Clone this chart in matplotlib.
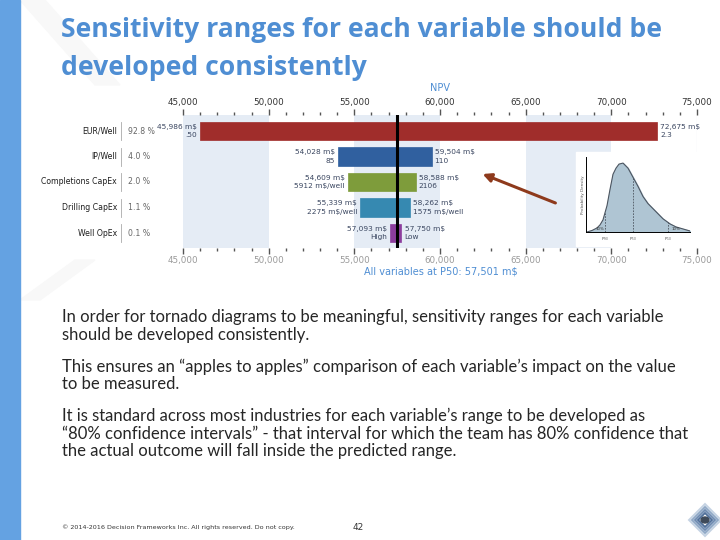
import matplotlib.pyplot as plt
from matplotlib.patches import Rectangle, Polygon

# tornado data (NPV in m$)
variables = ["EUR/Well", "IP/Well", "Completions CapEx", "Drilling CapEx", "Well OpEx"]
shares = ["92.8 %", "4.0 %", "2.0 %", "1.1 %", "0.1 %"]
npv_low = [45986, 54028, 54609, 55339, 57093]
npv_high = [72675, 59504, 58588, 58262, 57750]
low_inputs = [".50", "85", "5912 m$/well", "2275 m$/well", "High"]
high_inputs = ["2.3", "110", "2106", "1575 m$/well", "Low"]
base_npv = 57501
bands = [(45000, 50000), (55000, 60000), (65000, 70000)]
bar_colors = ["#A02D2B", "#30609F", "#7E9C3B", "#3689B1", "#8C3D9D"]

# inset density sketch
dens_x = [1, 6, 11, 14, 17, 21, 24, 27, 30, 33, 37, 42, 47, 52, 57, 62, 67, 71, 77, 84, 90, 97, 104]
dens_y = [0, 1.5, 4, 7, 12, 26, 42, 57, 63, 67, 68, 63, 54, 45, 35, 28, 23, 19, 13, 8, 5, 3, 1]
pct_x = [19, 47, 82]
pct_labels = ["P$_{90}$", "P$_{50}$", "P$_{10}$"]

body = [
    ("In order for tornado diagrams to be meaningful, sensitivity ranges for each variable", 317),
    ("should be developed consistently.", 335),
    ("This ensures an \u201capples to apples\u201d comparison of each variable\u2019s impact on the value", 367),
    ("to be measured.", 384),
    ("It is standard across most industries for each variable\u2019s range to be developed as", 416),
    ("\u201c80% confidence intervals\u201d - that interval for which the team has 80% confidence that", 434),
    ("the actual outcome will fall inside the predicted range.", 451),
]

W, H = 720, 540
fig = plt.figure(figsize=(7.2, 5.4), dpi=100)
fig.patch.set_facecolor("white")


def fx(x):
    return x / W


def fy(y):
    return 1 - y / H


# faint watermark chevrons
for pts in [[(20, 0), (45, 0), (120, 85), (95, 85)],
            [(20, 300), (40, 300), (95, 260), (75, 260)]]:
    fig.patches.append(Polygon([(fx(a), fy(b)) for a, b in pts], closed=True,
                               transform=fig.transFigure, color="#F8F8F8", zorder=0))

# left blue strip
fig.patches.append(Rectangle((0, 0), fx(20), 1, transform=fig.transFigure,
                             color="#64A2E2", zorder=1))

# title
title_font = "Open Sans"
fig.text(fx(61), fy(30), "Sensitivity ranges for each variable should be", fontsize=19.1,
         fontweight="bold", color="#4F8ED3", family=title_font, va="center")
fig.text(fx(61), fy(68), "developed consistently", fontsize=19.1,
         fontweight="bold", color="#4F8ED3", family=title_font, va="center")

# chart
ax = fig.add_axes([fx(183), fy(248), fx(697) - fx(183), (248 - 115) / H])
for lo, hi in bands:
    ax.axvspan(lo, hi, color="#E5ECF5", zorder=0, lw=0)
ax.axvline(75000, color="#C9D1DB", lw=0.8, zorder=0)

rows = list(range(len(variables)))
widths = [h - l for l, h in zip(npv_low, npv_high)]
ax.barh(rows, widths, left=npv_low, height=0.74, color=bar_colors,
        edgecolor=bar_colors, lw=0.5, zorder=2)
ax.axvline(base_npv, color="black", lw=2.2, zorder=3)

lab_kw = dict(fontsize=5.3, color="#3A4660", family="DejaVu Sans", zorder=4)
for i in rows:
    ax.text(npv_low[i] - 180, i, f"{npv_low[i]:,} m$\n{low_inputs[i]}", ha="right",
            va="center", linespacing=1.5, **lab_kw)
    ax.text(npv_high[i] + 180, i, f"{npv_high[i]:,} m$\n{high_inputs[i]}", ha="left",
            va="center", linespacing=1.5, **lab_kw)

ax.set_xlim(45000, 75000)
ax.set_ylim(4.59, -0.63)
ax.set_yticks([])
ax.set_xticks(range(45000, 75001, 5000))
ax.set_xticks(range(45000, 75001, 1000), minor=True)
ax.tick_params(axis="x", which="both", top=True, bottom=True, labeltop=True,
               labelbottom=True, direction="out", color="#555555", width=1.0)
ax.tick_params(axis="x", which="major", length=4, labelsize=6.3, pad=2)
ax.tick_params(axis="x", which="minor", length=2)
for t in ax.xaxis.get_major_ticks():
    t.label1.set_color("#9A9A9A")
    t.label2.set_color("#333333")
ax.xaxis.set_major_formatter(plt.FuncFormatter(lambda v, p: f"{int(v):,}"))
for s in ax.spines.values():
    s.set_visible(False)

# left category labels
for i, (name, sh) in enumerate(zip(variables, shares)):
    y = 131 + 25.5 * i
    fig.text(fx(117), fy(y), name, ha="right", va="center", fontsize=5.6,
             color="#1E1E1E")
    fig.text(fx(128), fy(y), sh, ha="left", va="center", fontsize=5.6, color="#666666")
    fig.add_artist(plt.Line2D([fx(121), fx(121)], [fy(y - 9), fy(y + 9)],
                              color="#AAAAAA", lw=0.6))

fig.text(fx(440), fy(88), "NPV", ha="center", va="center", fontsize=7, color="#4F8ED3")
fig.text(fx(441), fy(271), "All variables at P50: 57,501 m$", ha="center", va="center",
         fontsize=7, color="#4F8ED3")

# inset density sketch
fig.patches.append(Rectangle((fx(576), fy(246)), fx(698) - fx(576), (246 - 152) / H,
                             transform=fig.transFigure, color="white", zorder=3))
ins = fig.add_axes([fx(586), fy(232), fx(690) - fx(586), (232 - 157) / H], zorder=5)
ins.patch.set_alpha(0)
ins.fill_between(dens_x, dens_y, color="#AFC5D3")
ins.plot(dens_x, dens_y, color="#4C5560", lw=0.8)
for px, pl in zip(pct_x, pct_labels):
    top = 0
    for a, b, c, d in zip(dens_x[:-1], dens_x[1:], dens_y[:-1], dens_y[1:]):
        if a <= px <= b:
            top = c + (d - c) * (px - a) / (b - a)
    ins.plot([px, px], [0, top], color="#4C5560", lw=0.6, ls=(0, (2, 1.5)))
    ins.text(px, -3, pl, ha="center", va="top", fontsize=3, color="#555555")
ins.text(10, 1.5, "10%", fontsize=2.8, color="#333333")
ins.text(86, 1.5, "10%", fontsize=2.8, color="#333333")
ins.set_xlim(0, 104)
ins.set_ylim(0, 74)
ins.set_xticks([])
ins.set_yticks([])
ins.spines["top"].set_visible(False)
ins.spines["right"].set_visible(False)
ins.spines["left"].set_linewidth(0.7)
ins.spines["bottom"].set_linewidth(0.7)
ins.set_ylabel("Probability Density", fontsize=3, labelpad=1, color="#555555")

# arrow
ax.annotate("", xy=(fx(480), fy(173)), xytext=(fx(558), fy(204)),
            xycoords="figure fraction", textcoords="figure fraction",
            arrowprops=dict(arrowstyle="-|>,head_length=0.5,head_width=0.25",
                            color="#8E3A1C", lw=2.2))

# body text
for line, y in body:
    fig.text(fx(62), fy(y), line, fontsize=12.0, color="#262626", family="Lato",
             va="center")

# footer
fig.text(fx(62), fy(527), "\u00a9 2014-2016 Decision Frameworks Inc. All rights reserved. Do not copy.",
         fontsize=4.6, color="#333333", va="center")
fig.text(fx(358), fy(527), "42", fontsize=6.5, color="#333333", va="center", ha="center")

# logo: nested diamonds
cx, cy = 705, 520
for r, c in zip([16, 13, 10, 7], ["#C5D3E3", "#8FA8C6", "#6E8BB1", "#4F6F9A"]):
    fig.patches.append(Polygon([(fx(cx), fy(cy - r)), (fx(cx + r), fy(cy)),
                                (fx(cx), fy(cy + r)), (fx(cx - r), fy(cy))],
                               closed=True, transform=fig.transFigure, fill=False,
                               edgecolor=c, lw=1.4, zorder=2))
fig.patches.append(plt.Circle((fx(cx), fy(cy)), 4 / W, transform=fig.transFigure,
                              color="#3E4A5A", zorder=3))

fig.savefig("out.png", dpi=100)
